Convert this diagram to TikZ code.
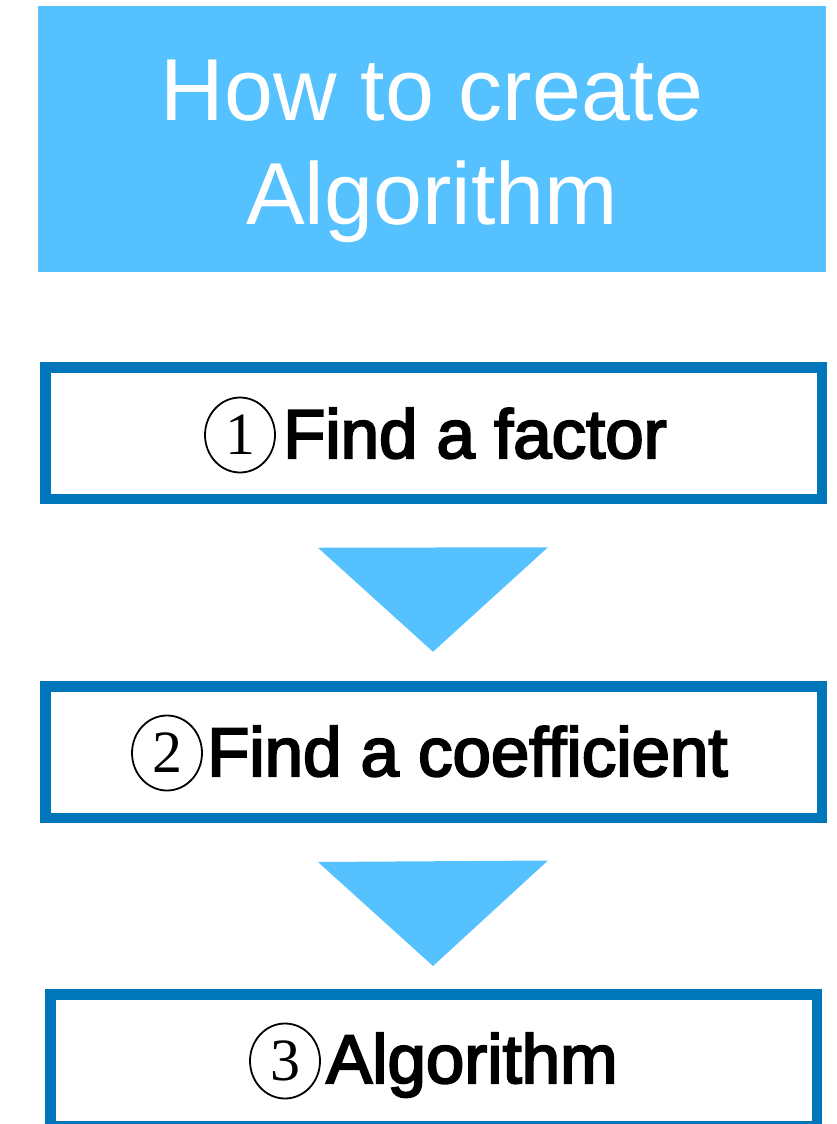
\documentclass[tikz,border=0pt]{standalone}
\usepackage{fontspec}
\setmainfont{Liberation Sans}
\newfontfamily\stepfont{Liberation Sans}[FakeBold=3]
\newfontfamily\digitfont{Liberation Serif}
\usetikzlibrary{shapes.geometric,calc}
\definecolor{skyfill}{HTML}{56C1FF}
\definecolor{rimblue}{HTML}{0076BA}
\tikzset{
  headbox/.style={rectangle, fill=skyfill, inner sep=0pt,
    minimum width=788pt, minimum height=266pt},
  headtext/.style={text=white, inner sep=0pt, anchor=base,
    font=\fontsize{88}{100}\selectfont},
  stepbox/.style={rectangle, draw=rimblue, line width=10.5pt, fill=white,
    inner sep=0pt, minimum height=131.5pt},
  steptext/.style={text=black, inner sep=0pt, anchor=base west,
    font=\stepfont\fontsize{69}{80}\selectfont},
  numring/.style={ellipse, draw=black, line width=1.8pt, inner sep=0pt,
    minimum width=70pt, minimum height=75pt,
    font=\digitfont\fontsize{60}{66}\selectfont},
  flowtri/.style={fill=skyfill}
}
\begin{document}
\begin{tikzpicture}[x=1pt,y=-1pt]
\useasboundingbox (0,0) rectangle (837,1124);

% title banner
\node[headbox] (head) at (432,139) {};
\node[headtext] (head1) at (432,120) {How to create};
\node[headtext] (head2) at (432,224) {Algorithm};

% step boxes
\node[stepbox, minimum width=776.5pt] (s1) at (433.5,433) {};
\node[stepbox, minimum width=776.5pt] (s2) at (433.5,752) {};
\node[stepbox, minimum width=766.5pt] (s3) at (433.5,1060.25) {};

% step labels
\node[numring] (c1) at (240,435) {1};
\node[steptext] (t1) at (283,458) {Find a factor};
\node[numring] (c2) at (167,753) {2};
\node[steptext] (t2) at (207,776) {Find a coefficient};
\node[numring] (c3) at (285,1061) {3};
\node[steptext] (t3) at (326,1083) {Algorithm};

% downward triangles between the steps
\fill[flowtri] ($(s1.south)+(-115.5,43.75)$) -- ($(s1.south)+(114.5,43.25)$)
  -- ($(s2.north)+(-0.5,-29.25)$) -- cycle;
\fill[flowtri] ($(s2.south)+(-115.5,39)$) -- ($(s2.south)+(114.5,37.5)$)
  -- ($(s3.north)+(-0.5,-23.25)$) -- cycle;
\end{tikzpicture}
\end{document}
